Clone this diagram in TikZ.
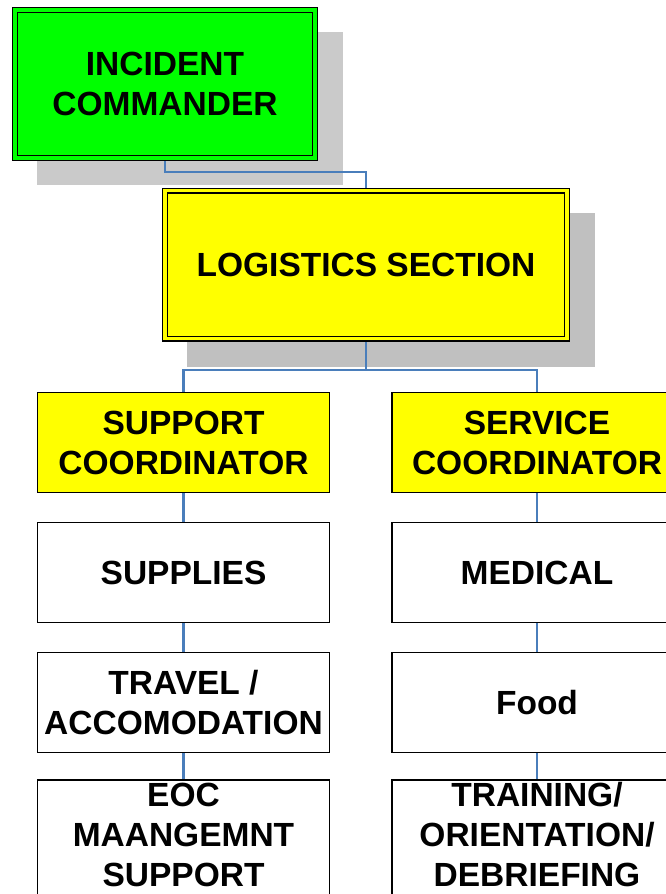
\documentclass[tikz,border=0pt]{standalone}
\usepackage{fontspec}
\setmainfont{Liberation Sans}
\usetikzlibrary{backgrounds}
\definecolor{icgreen}{HTML}{00FF00}
\definecolor{boxyellow}{HTML}{FFFF00}
\definecolor{shadowA}{HTML}{CACACA}
\definecolor{shadowB}{HTML}{C0C0C0}
\definecolor{linkblue}{HTML}{4A7EBB}
\begin{document}
\begin{tikzpicture}[x=1pt,y=-1pt,
  lbl/.style={font=\fontsize{33.5}{40}\selectfont\bfseries, align=center, inner sep=0pt, outer sep=0pt},
  dbox/.style={lbl, draw=black, line width=1.4pt, double distance=3.2pt},
  sbox/.style={lbl, draw=black, line width=1.5pt, minimum width=292pt, minimum height=100pt},
  tallbox/.style={sbox, minimum height=118pt, text depth=9pt},
  link/.style={draw=linkblue, line width=2.6pt}]
\useasboundingbox (0,0) rectangle (665,894);
% top boxes
\node[dbox, fill=icgreen, double=icgreen, minimum width=300pt, minimum height=148pt] (ic) at (165,84) {INCIDENT\\COMMANDER};
\node[dbox, fill=boxyellow, double=boxyellow, minimum width=402pt, minimum height=148pt] (log) at (366,264.5) {LOGISTICS SECTION};
% coordinators
\node[sbox, fill=boxyellow] (sup) at (183.5,442.5) {SUPPORT\\COORDINATOR};
\node[sbox, fill=boxyellow, minimum width=290pt] (ser) at (537,442.5) {SERVICE\\COORDINATOR};
% left column
\node[sbox, fill=white] (supplies) at (183.5,572.5) {SUPPLIES};
\node[sbox, fill=white] (travel) at (183.5,702.5) {TRAVEL /\\ACCOMODATION};
\node[tallbox, fill=white] (eoc) at (183.5,839) {EOC\\MAANGEMNT\\SUPPORT};
% right column
\node[sbox, fill=white, minimum width=290pt] (medical) at (537,572.5) {MEDICAL};
\node[sbox, fill=white, minimum width=290pt] (food) at (537,702.5) {Food};
\node[tallbox, fill=white, minimum width=290pt] (training) at (537,839) {TRAINING/\\ORIENTATION/\\DEBRIEFING};
\begin{pgfonlayer}{background}
  \fill[shadowA] ([shift={(22,22)}]ic.north west) rectangle ([shift={(28,27)}]ic.south east);
  \fill[shadowB] ([shift={(22,22)}]log.north west) rectangle ([shift={(28,28)}]log.south east);
  \draw[link] (ic.south) -- ++(0,14) -| (log.north);
  \draw[link] (log.south) -- ++(0,31.5) -| (sup.north);
  \draw[link] (log.south) -- ++(0,31.5) -| (ser.north);
  \draw[link] (sup.south) -- (supplies.north);
  \draw[link] (supplies.south) -- (travel.north);
  \draw[link] (travel.south) -- (eoc.north);
  \draw[link] (ser.south) -- (medical.north);
  \draw[link] (medical.south) -- (food.north);
  \draw[link] (food.south) -- (training.north);
\end{pgfonlayer}
\end{tikzpicture}
\end{document}
